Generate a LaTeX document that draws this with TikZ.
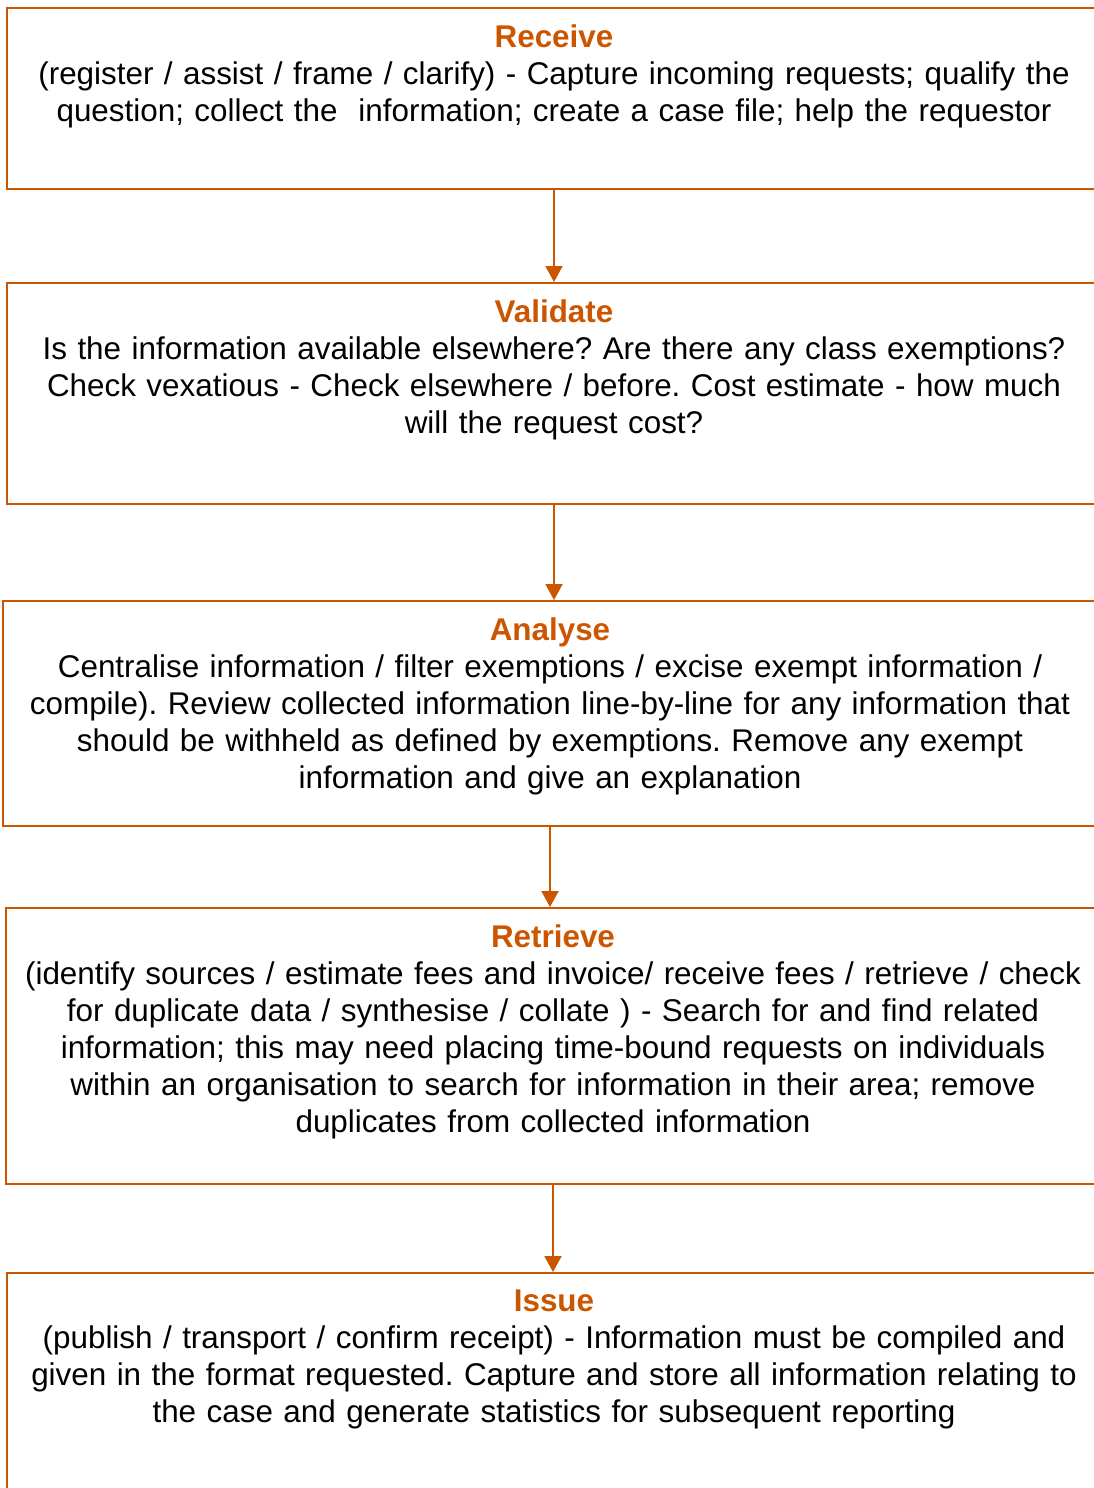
\documentclass[tikz,border=0pt]{standalone}
\usepackage{fontspec}
\setmainfont{Liberation Sans}
\usetikzlibrary{positioning}
\usetikzlibrary{arrows.meta}
\definecolor[named]{StageOrange}{RGB}{204,85,0}
\newcommand{\stagefont}{\fontsize{31.4}{37}\selectfont\frenchspacing}
\newcommand{\stagetitle}[1]{{\bfseries\color{StageOrange}#1}}

\begin{document}
\begin{tikzpicture}[x=1pt,y=-1pt]
    \tikzset{stage/.style={draw=StageOrange,line width=2pt,anchor=north west,minimum width=1094pt,inner sep=0pt}}
    \tikzset{stagetext/.style={text width=1090pt,align=center,inner sep=0pt,font=\stagefont}}
    \tikzset{flow/.style={StageOrange,line width=2pt,-{Triangle[width=17pt,length=16pt]}}}

    \useasboundingbox (0,0) rectangle (1094,1488);
    \clip (0,0) rectangle (1094,1488);

    % Stage boxes
    \node[stage,minimum height=181pt] (receive)  at (6,7) {};
    \node[stage,minimum height=221pt] (validate) at (6,282) {};
    \node[stage,minimum height=225pt] (analyse)  at (2,600) {};
    \node[stage,minimum height=276pt] (retrieve) at (5,907) {};
    \node[stage,minimum height=260pt] (issue)    at (6,1272) {};

    % Stage texts
    \node[stagetext,below=18pt of receive.north] (receivetext) {\stagetitle{Receive}\\
      (register / assist / frame / clarify) - Capture incoming requests; qualify the\\
      question; collect the~\ information; create a case file; help the requestor};
    \node[stagetext,below=18pt of validate.north] (validatetext) {\stagetitle{Validate}\\
      Is the information available elsewhere? Are there any class exemptions?\\
      Check vexatious - Check elsewhere / before. Cost estimate - how much\\
      will the request cost?};
    \node[stagetext,below=18pt of analyse.north] (analysetext) {\stagetitle{Analyse}\\
      Centralise information / filter exemptions / excise exempt information /\\
      compile). Review collected information line-by-line for any information that\\
      should be withheld as defined by exemptions. Remove any exempt\\
      information and give an explanation};
    \node[stagetext,below=18pt of retrieve.north] (retrievetext) {\stagetitle{Retrieve}\\
      (identify sources / estimate fees and invoice/ receive fees / retrieve / check\\
      for duplicate data / synthesise / collate ) - Search for and find related\\
      information; this may need placing time-bound requests on individuals\\
      within an organisation to search for information in their area; remove\\
      duplicates from collected information};
    \node[stagetext,below=18pt of issue.north] (issuetext) {\stagetitle{Issue}\\
      (publish / transport / confirm receipt) - Information must be compiled and\\
      given in the format requested. Capture and store all information relating to\\
      the case and generate statistics for subsequent reporting};

    % Flow
    \draw[flow] (receive.south)  -- (receive.south |- validate.north);
    \draw[flow] (validate.south) -- (validate.south |- analyse.north);
    \draw[flow] (analyse.south)  -- (analyse.south |- retrieve.north);
    \draw[flow] (retrieve.south) -- (retrieve.south |- issue.north);
\end{tikzpicture}
\end{document}
